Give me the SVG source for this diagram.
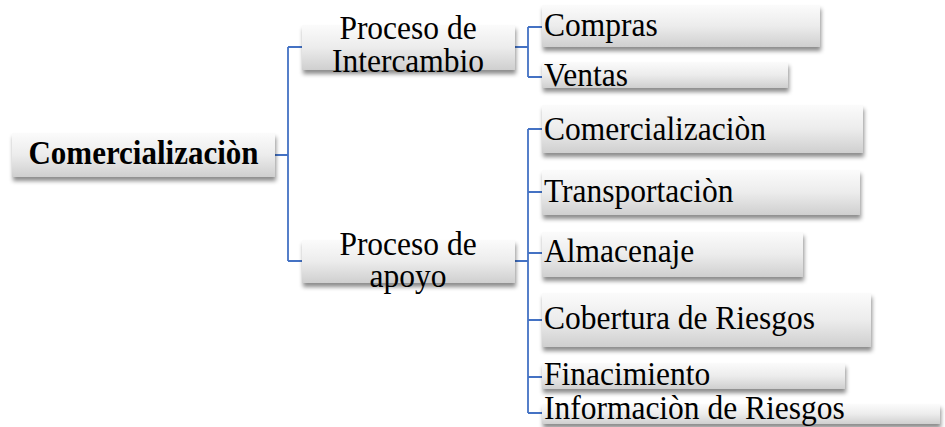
<svg xmlns="http://www.w3.org/2000/svg" width="945" height="427" viewBox="0 0 945 427">
<defs>
<linearGradient id="g" x1="0" y1="0" x2="0" y2="1">
<stop offset="0" stop-color="#fbfbfb"/>
<stop offset="0.5" stop-color="#ececec"/>
<stop offset="1" stop-color="#cfcfcf"/>
</linearGradient>
<filter id="sh" x="-10%" y="-20%" width="120%" height="160%">
<feDropShadow dx="1" dy="4" stdDeviation="2.2" flood-color="#000" flood-opacity="0.45"/>
</filter>
</defs>
<style>
.box{fill:url(#g);filter:url(#sh);}
text{font-family:'Liberation Serif','Times New Roman','DejaVu Serif',serif;font-size:31.5px;fill:#000;}
.b{font-weight:bold;font-size:31px;}
.m{text-anchor:middle;}
.c{fill:none;stroke:#4472c4;stroke-width:1.8;}
</style>
<rect width="945" height="427" fill="#fff"/>
<g id="connectors">
<path class="c" d="M275 155H288M288 47V261M288 47H302M288 261H302"/>
<path class="c" d="M515 47H528M528 27V77M528 27H542M528 77H542"/>
<path class="c" d="M515 261H528M528 129V413M528 129H542M528 192H542M528 253H542M528 320H542M528 377H542M528 413H542"/>
</g>
<g id="root"><rect class="box" x="12" y="133" width="263" height="44"/><text class="b m" transform="translate(143.5 164) scale(1 1.08)">Comercializaciòn</text></g>
<g id="intercambio"><rect class="box" x="302" y="25" width="213" height="45"/><text class="m" transform="translate(408 39) scale(1 1.08)"><tspan x="0" y="0">Proceso de</tspan><tspan x="0" dy="30.5">Intercambio</tspan></text></g>
<g id="apoyo"><rect class="box" x="302" y="240" width="213" height="43"/><text class="m" transform="translate(408 255) scale(1 1.08)"><tspan x="0" y="0">Proceso de</tspan><tspan x="0" dy="29.6">apoyo</tspan></text></g>
<g id="compras"><rect class="box" x="542" y="5" width="278" height="42"/><text transform="translate(544 36) scale(1 1.08)">Compras</text></g>
<g id="ventas"><rect class="box" x="542" y="62" width="246" height="26"/><text transform="translate(544 86) scale(1 1.08)">Ventas</text></g>
<g id="comercializacion"><rect class="box" x="542" y="105" width="321" height="48"/><text transform="translate(544 140) scale(1 1.08)">Comercializaciòn</text></g>
<g id="transportacion"><rect class="box" x="542" y="170" width="318" height="45"/><text transform="translate(544 201.5) scale(1 1.08)">Transportaciòn</text></g>
<g id="almacenaje"><rect class="box" x="542" y="232" width="261" height="45"/><text transform="translate(544 262) scale(1 1.08)">Almacenaje</text></g>
<g id="cobertura"><rect class="box" x="542" y="293" width="329" height="54"/><text transform="translate(544 329) scale(1 1.08)">Cobertura de Riesgos</text></g>
<g id="finacimiento"><rect class="box" x="542" y="363" width="303" height="26"/><text transform="translate(544 385) scale(1 1.08)">Finacimiento</text></g>
<g id="informacion"><rect class="box" x="542" y="404" width="398" height="20"/><text transform="translate(544 419) scale(1 1.08)">Informaciòn de Riesgos</text></g>
</svg>
